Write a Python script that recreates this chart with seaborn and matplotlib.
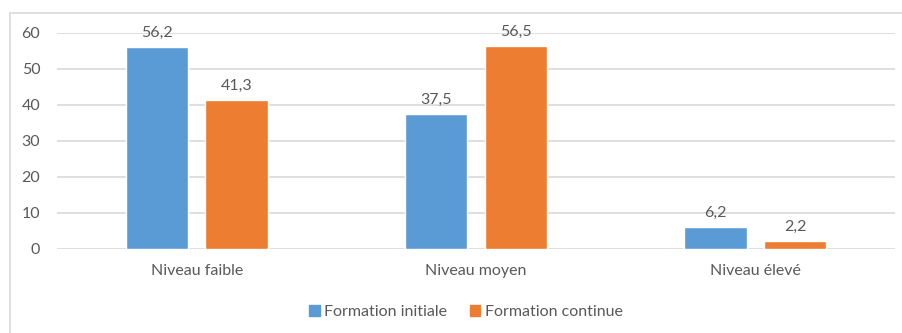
import matplotlib
matplotlib.use("Agg")
import matplotlib.pyplot as plt
from matplotlib.patches import Rectangle
import seaborn as sns
import pandas as pd

categories = ["Niveau faible", "Niveau moyen", "Niveau élevé"]
series_names = ["Formation initiale", "Formation continue"]
initiale = [56.2, 37.5, 6.2]
continue_ = [41.3, 56.5, 2.2]
y_ticks = [0, 10, 20, 30, 40, 50, 60]

colors = ["#5B9BD5", "#ED7D31"]
text_color = "#595959"
grid_color = "#D9D9D9"

df = pd.DataFrame({
    "niveau": categories * 2,
    "serie": [series_names[0]] * 3 + [series_names[1]] * 3,
    "valeur": initiale + continue_,
})

sns.set_theme(style="white")
plt.rcParams["font.family"] = ["Lato", "DejaVu Sans"]

W, H = 902, 333
fig = plt.figure(figsize=(W / 100, H / 100), dpi=100)
fig.patch.set_facecolor("white")

# outer chart frame (left and top edges visible)
fig.add_artist(plt.Line2D([10 / W, 10 / W], [0, 1 - 13 / H], transform=fig.transFigure,
                          color=grid_color, lw=1.2))
fig.add_artist(plt.Line2D([10 / W, 1], [1 - 13 / H, 1 - 13 / H], transform=fig.transFigure,
                          color=grid_color, lw=1.2))

ax = fig.add_axes([57 / W, 1 - 249 / H, (895 - 57) / W, (249 - 33) / H])
sns.barplot(data=df, x="niveau", y="valeur", hue="serie", order=categories,
            hue_order=series_names, palette=colors, width=0.57, gap=0.22,
            ax=ax, legend=False, saturation=1)

ax.set_ylim(0, 60)
ax.set_yticks(y_ticks)
ax.set_xlim(-0.5, 2.5)
ax.yaxis.grid(True, color=grid_color, lw=1.2)
ax.set_axisbelow(True)
for s in ax.spines.values():
    s.set_visible(False)
ax.set_xlabel("")
ax.set_ylabel("")
fs = 11.5
ax.tick_params(axis="both", length=0, labelsize=fs, colors=text_color)
ax.tick_params(axis="x", pad=11)
ax.tick_params(axis="y", pad=12)

for cont in ax.containers:
    ax.bar_label(cont, labels=[f"{v:.1f}".replace(".", ",") for v in cont.datavalues],
                 padding=5, fontsize=fs, color=text_color, clip_on=False)

handles = [Rectangle((0, 0), 1, 1, color=c) for c in colors]
fig.legend(handles, series_names, loc="center", bbox_to_anchor=(466 / W, 1 - 312 / H),
           ncol=2, frameon=False, fontsize=fs, labelcolor=text_color,
           handlelength=0.65, handleheight=0.65, handletextpad=0.3, columnspacing=1.4)

fig.savefig("out.png", dpi=100, facecolor="white")
